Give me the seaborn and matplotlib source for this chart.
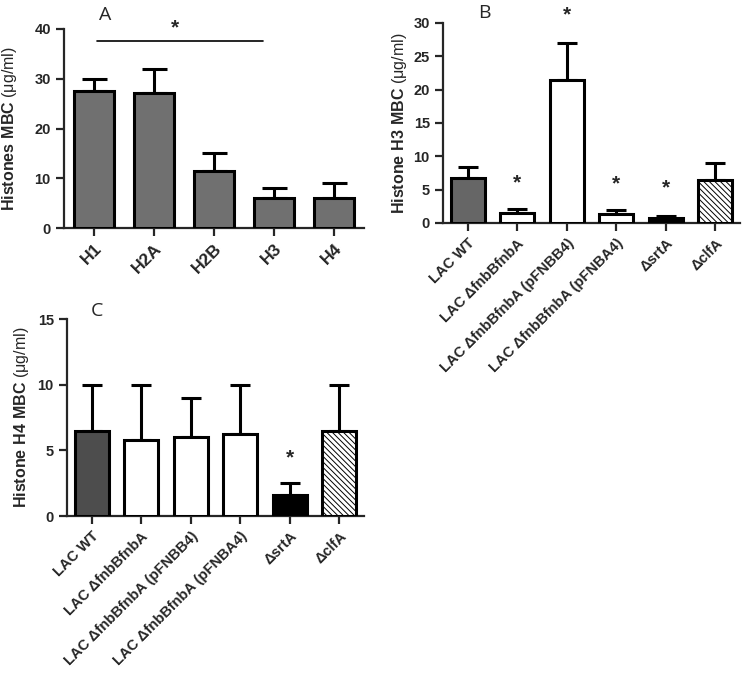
import matplotlib
matplotlib.use("Agg")
import matplotlib.pyplot as plt
import seaborn as sns

# =====================================================
# Data
# =====================================================

histones = ["H1", "H2A", "H2B", "H3", "H4"]
histones_mbc = [27.6, 27.1, 11.5, 6.0, 6.0]
histones_err = [2.4, 4.9, 3.5, 2.0, 3.0]

strains = ["LAC WT", "LAC \u0394fnbBfnbA", "LAC \u0394fnbBfnbA (pFNBB4)",
           "LAC \u0394fnbBfnbA (pFNBA4)", "\u0394srtA", "\u0394clfA"]
h3_mbc = [6.8, 1.5, 21.5, 1.4, 0.8, 6.5]
h3_err = [1.6, 0.6, 5.5, 0.5, 0.2, 2.5]
h3_star = [None, 6.0, 31.2, 5.9, 5.3, None]

h4_mbc = [6.5, 5.8, 6.0, 6.25, 1.6, 6.5]
h4_err = [3.5, 4.2, 3.0, 3.75, 0.9, 3.5]
h4_star = [None, None, None, None, 4.4, None]

UNIT = " (\u03bcg/ml)"

# =====================================================
# Style
# =====================================================

sns.set_style("ticks")
plt.rcParams["font.family"] = ["Liberation Sans", "DejaVu Sans"]
plt.rcParams["mathtext.fontset"] = "custom"
plt.rcParams["mathtext.bf"] = "Liberation Sans:bold"
plt.rcParams["mathtext.rm"] = "Liberation Sans"
plt.rcParams["hatch.linewidth"] = 0.7

W, H = 745, 673
fig = plt.figure(figsize=(W / 100, H / 100), dpi=100)


def make_axes(left, right, top, bottom):
    return fig.add_axes([left / W, 1 - bottom / H, (right - left) / W, (bottom - top) / H])


def draw_panel(ax, cats, vals, errs, colors, hatches, ymax, step, ylabel,
               xsize, capsize, labelpad):
    sns.barplot(x=cats, y=vals, hue=cats, palette=colors, legend=False,
                edgecolor="black", linewidth=2.2, width=0.68, saturation=1,
                ax=ax, zorder=3)
    for patch, h in zip(ax.patches, hatches):
        if h:
            patch.set_hatch(h)
    ax.errorbar(range(len(cats)), vals, yerr=[[0] * len(vals), errs], fmt="none",
                ecolor="black", elinewidth=2.2, capsize=capsize, capthick=2.2, zorder=2)
    ax.set_xlim(-0.5, len(cats) - 0.5)
    ax.set_ylim(0, ymax)
    ax.set_yticks(range(0, ymax + 1, step))
    sns.despine(ax=ax)
    for s in ["left", "bottom"]:
        ax.spines[s].set_linewidth(1.6)
    ax.tick_params(axis="both", width=1.6, length=6, labelsize=10.5)
    ax.set_xlabel("")
    ax.set_ylabel(ylabel, fontsize=11.5, labelpad=labelpad)
    ax.set_xticks(range(len(cats)))
    ax.set_xticklabels(cats, rotation=45, ha="right", rotation_mode="anchor",
                       fontweight="bold", fontsize=xsize)
    for lbl in ax.get_yticklabels():
        lbl.set_fontweight("bold")


def letter(x, y, s):
    fig.text(x / W, 1 - y / H, s, ha="center", va="baseline", fontsize=14,
             family="Open Sans")


# Panel A
axA = make_axes(64, 364, 29, 228)
draw_panel(axA, histones, histones_mbc, histones_err, ["#707070"] * 5, [None] * 5,
           40, 10, r"$\bf{Histones\ MBC}$" + UNIT, 12.5, 9, 11)
axA.plot([0.05, 2.82], [37.6, 37.6], color="black", lw=1.2, clip_on=False)
axA.text(1.35, 38.3, "*", ha="center", va="bottom", fontsize=15, fontweight="bold")
letter(105, 20, "A")

colors6 = ["#666666", "white", "white", "white", "black", "white"]
hatches6 = [None, None, None, None, None, "\\\\\\\\\\\\"]

# Panel B
axB = make_axes(443, 740, 23, 223)
draw_panel(axB, strains, h3_mbc, h3_err, colors6, hatches6,
           30, 5, r"$\bf{Histone\ H3\ MBC}$" + UNIT, 10.5, 7, 3)
for i, s in enumerate(h3_star):
    if s is not None:
        axB.text(i, s, "*", ha="center", va="center", fontsize=15,
                 fontweight="bold", clip_on=False)
letter(484, 18, "B")

# Panel C
axC = make_axes(67, 364, 319, 516)
colorsC = ["#4d4d4d", "white", "white", "white", "black", "white"]
draw_panel(axC, strains, h4_mbc, h4_err, colorsC, hatches6,
           15, 5, r"$\bf{Histone\ H4\ MBC}$" + UNIT, 10.5, 7, 5)
for i, s in enumerate(h4_star):
    if s is not None:
        axC.text(i, s, "*", ha="center", va="center", fontsize=15, fontweight="bold")
letter(97, 316, "C")

fig.savefig("out.png", dpi=100)
